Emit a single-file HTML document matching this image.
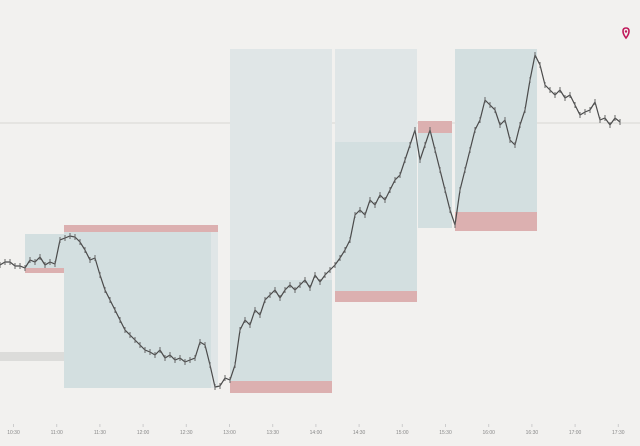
<!DOCTYPE html>
<html><head><meta charset="utf-8"><style>
html,body{margin:0;padding:0;background:#f2f1ef;}
svg{display:block;font-family:"Liberation Sans",sans-serif;}
</style></head><body>
<svg id="chart" width="640" height="446" viewBox="0 0 640 446">
<rect x="0" y="0" width="640" height="446" fill="#f2f1ef"/>
<line x1="0" y1="123" x2="640" y2="123" stroke="#d8d6d3" stroke-width="1"/>
<g id="boxes">
 <rect x="0" y="352" width="135" height="9" fill="#dcdcda"/>
 <rect x="25" y="234" width="39" height="34" fill="#d3dfe0"/>
 <rect x="25" y="268" width="39" height="5" fill="#dcb0b0"/>
 <rect x="64" y="225" width="154" height="7" fill="#dcb0b0"/>
 <rect x="64" y="232" width="147" height="156" fill="#d3dfe0"/>
 <rect x="211" y="232" width="7" height="156" fill="#e0e6e7"/>
 <rect x="230" y="49" width="102" height="231" fill="#e0e6e7"/>
 <rect x="230" y="280" width="102" height="101" fill="#d3dfe0"/>
 <rect x="230" y="381" width="102" height="12" fill="#dcb0b0"/>
 <rect x="335" y="49" width="82" height="93" fill="#e0e6e7"/>
 <rect x="335" y="142" width="82" height="149" fill="#d3dfe0"/>
 <rect x="335" y="291" width="82" height="11" fill="#dcb0b0"/>
 <rect x="418" y="133" width="34" height="95" fill="#d3dfe0"/>
 <rect x="418" y="121" width="34" height="12" fill="#dcb0b0"/>
 <rect x="455" y="49" width="82" height="163" fill="#d3dfe0"/>
 <rect x="455" y="212" width="82" height="19" fill="#dcb0b0"/>
</g>
<g id="series"></g>
<g id="xaxis"></g>
<g transform="translate(626,33)">
 <path d="M0,5 C-4,0 -4,-5 0,-5 C4,-5 4,0 0,5 Z" fill="none" stroke="#c0185a" stroke-width="1.6"/>
 <circle cx="0" cy="-1.5" r="1.2" fill="#c0185a"/>
</g>
</svg>
<script>
const prices=[135,138,138,134,134,132,140,138,143,135,138,136,160,162,164,163,158,150,140,142,125,110,100,90,80,70,65,60,55,50,48,45,50,42,45,40,42,38,40,42,58,55,35,13,14,22,20,35,70,80,75,90,85,100,105,110,102,110,115,110,115,120,112,125,118,125,130,135,142,150,160,185,190,185,200,195,205,200,210,220,225,240,255,270,240,255,270,250,230,210,190,175,210,230,250,270,280,300,295,290,275,280,260,255,275,290,320,345,335,315,310,305,310,302,305,295,285,288,290,298,280,282,275,282,278];
const tickLabels=["10:30","11:00","11:30","12:00","12:30","13:00","13:30","14:00","14:30","15:00","15:30","16:00","16:30","17:00","17:30"];
const NS="http://www.w3.org/2000/svg";
function xScale(i){return i*5;}
function yScale(p){return 400-p;}
function tickX(i){return 13.5+i*43.2;}
const g=document.getElementById('series');
let d="";
prices.forEach((p,i)=>{d+=(i?"L":"M")+xScale(i)+","+yScale(p);});
const path=document.createElementNS(NS,'path');
path.setAttribute('d',d);path.setAttribute('fill','none');path.setAttribute('stroke','#4a4a4a');path.setAttribute('stroke-width','1.2');


g.appendChild(path);
prices.forEach((p,i)=>{
 const l=document.createElementNS(NS,'line');
 l.setAttribute('x1',xScale(i));l.setAttribute('x2',xScale(i));
 l.setAttribute('y1',yScale(p)-3);l.setAttribute('y2',yScale(p)+3);
 l.setAttribute('stroke','#666');l.setAttribute('stroke-width','1');
 
 
 g.appendChild(l);
});
const ax=document.getElementById('xaxis');
tickLabels.forEach((t,i)=>{
 const tk=document.createElementNS(NS,'line');
 tk.setAttribute('x1',tickX(i));tk.setAttribute('x2',tickX(i));tk.setAttribute('y1',424);tk.setAttribute('y2',427);
 tk.setAttribute('stroke','#ccc');
 
 
 ax.appendChild(tk);
 const tx=document.createElementNS(NS,'text');
 tx.setAttribute('x',tickX(i));tx.setAttribute('y',434);tx.setAttribute('text-anchor','middle');
 tx.setAttribute('font-size','5');tx.setAttribute('fill','#888');
 tx.textContent=t;
 
 
 ax.appendChild(tx);
});
</script>
</body></html>
